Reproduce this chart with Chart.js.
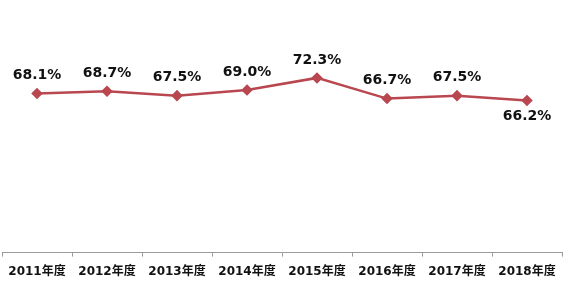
<!DOCTYPE html>
<html>
<head>
<meta charset="utf-8">
<script src="https://cdn.jsdelivr.net/npm/chart.js@4/dist/chart.umd.min.js"></script>
<style>
  html, body { margin: 0; padding: 0; background: #ffffff; }
  #wrap { width: 572px; height: 298px; }
</style>
</head>
<body>
<div id="wrap"><canvas id="c" width="572" height="298"></canvas></div>
<script>
const categories = ["2011年度", "2012年度", "2013年度", "2014年度", "2015年度", "2016年度", "2017年度", "2018年度"];
const values = [68.1, 68.7, 67.5, 69.0, 72.3, 66.7, 67.5, 66.2];
const valueLabels = ["68.1%", "68.7%", "67.5%", "69.0%", "72.3%", "66.7%", "67.5%", "66.2%"];
const labelBelow = [false, false, false, false, false, false, false, true];

const lineColor = "#b9474f";

const dataLabelPlugin = {
  id: "dataLabels",
  afterDatasetsDraw(chart) {
    const ctx = chart.ctx;
    const meta = chart.getDatasetMeta(0);
    ctx.save();
    ctx.font = "bold 14px 'DejaVu Sans', 'Noto Sans CJK SC', sans-serif";
    ctx.fillStyle = "#111111";
    ctx.textAlign = "center";
    ctx.textBaseline = "middle";
    meta.data.forEach((pt, i) => {
      const dy = labelBelow[i] ? 16 : -18;
      ctx.fillText(valueLabels[i], pt.x, pt.y + dy);
    });
    ctx.restore();
  }
};

new Chart(document.getElementById("c"), {
  type: "line",
  data: {
    labels: categories,
    datasets: [{
      data: values,
      borderColor: lineColor,
      backgroundColor: lineColor,
      borderWidth: 2.5,
      pointStyle: "rectRot",
      pointRadius: 4,
      pointHoverRadius: 4,
      tension: 0,
      fill: false
    }]
  },
  options: {
    responsive: false,
    animation: false,
    devicePixelRatio: 1,
    layout: { autoPadding: false, padding: { left: 2, right: 10, top: 31, bottom: 11 } },
    plugins: { legend: { display: false }, tooltip: { enabled: false } },
    scales: {
      y: { display: false, min: 25, max: 85 },
      x: {
        offset: true,
        afterFit(scale) { scale.paddingLeft = 0; scale.paddingRight = 0; },
        border: { display: true, color: "#9a9a9a", width: 1 },
        grid: { display: true, drawOnChartArea: false, drawTicks: true, tickLength: 4, color: "#9a9a9a", offset: true },
        ticks: {
          color: "#111111",
          padding: 8,
          maxRotation: 0,
          autoSkip: false,
          font: { family: "'DejaVu Sans', 'Noto Sans CJK SC', sans-serif", size: 12, weight: "bold" }
        }
      }
    }
  },
  plugins: [dataLabelPlugin]
});
</script>
</body>
</html>
